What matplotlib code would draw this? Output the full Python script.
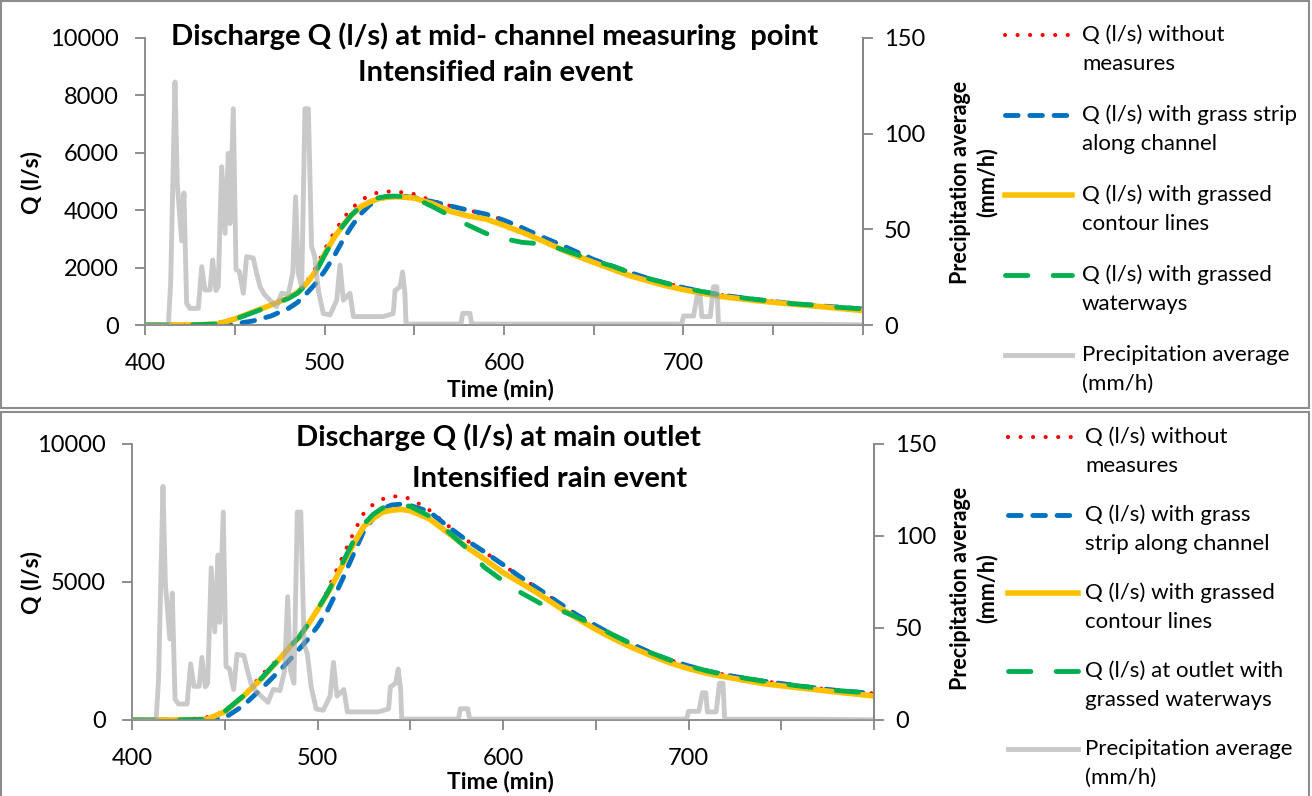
import matplotlib
matplotlib.use('Agg')
import matplotlib.pyplot as plt
from matplotlib.lines import Line2D
from matplotlib.patches import Rectangle

plt.rcParams['font.family'] = ['Lato', 'DejaVu Sans']

# ---- data ----
time_min = [400, 410, 420, 430, 440, 450, 460, 470, 480, 485, 490, 495, 500, 505, 510,
            515, 520, 525, 530, 535, 540, 545, 550, 560, 570, 580, 590, 600, 610, 620,
            630, 640, 650, 660, 670, 680, 690, 700, 710, 720, 740, 760, 780, 800]

# mid-channel measuring point
q_mid_none = [0, 0, 0, 10, 60, 230, 460, 690, 920, 1130, 1500, 1980, 2620, 3180, 3680,
              4050, 4330, 4520, 4620, 4650, 4640, 4610, 4560, 4330, 4150, 4000, 3860, 3650, 3390, 3100,
              2840, 2560, 2280, 2060, 1830, 1630, 1460, 1300, 1170, 1050, 890, 750, 650, 555]
q_mid_strip = [0, 0, 0, 0, 0, 40, 140, 310, 580, 790, 1100, 1440, 1870, 2360, 2930,
               3430, 3860, 4170, 4410, 4480, 4490, 4480, 4440, 4300, 4150, 4000, 3860, 3650, 3390, 3100,
               2840, 2560, 2280, 2060, 1830, 1630, 1460, 1300, 1170, 1050, 890, 750, 650, 555]
q_mid_contour = [0, 0, 0, 10, 30, 210, 450, 690, 950, 1130, 1450, 1860, 2460, 3010, 3450,
                 3830, 4110, 4280, 4400, 4450, 4470, 4450, 4420, 4230, 3960, 3800, 3690, 3470, 3230, 2970,
                 2690, 2420, 2180, 1950, 1720, 1540, 1370, 1230, 1110, 1000, 850, 730, 620, 500]
q_mid_waterways = [0, 0, 0, 10, 40, 200, 430, 670, 930, 1110, 1420, 1830, 2420, 2990, 3440,
                   3830, 4120, 4320, 4430, 4480, 4490, 4470, 4430, 4130, 3800, 3480, 3190, 3010, 2880, 2830,
                   2680, 2470, 2250, 2060, 1830, 1630, 1460, 1300, 1170, 1050, 890, 750, 650, 555]

# main outlet
q_out_none = [0, 0, 0, 20, 90, 300, 850, 1640, 2290, 2620, 3000, 3450, 4000, 4630, 5390,
              6140, 6860, 7500, 7810, 8000, 8110, 8090, 8020, 7620, 7060, 6530, 6090, 5620, 5150, 4710,
              4250, 3800, 3420, 3060, 2730, 2430, 2170, 1960, 1780, 1630, 1410, 1230, 1070, 960]
q_out_strip = [0, 0, 0, 0, 0, 80, 520, 1150, 1820, 2180, 2560, 2940, 3390, 3920, 4600,
               5330, 6100, 6850, 7300, 7660, 7790, 7820, 7770, 7560, 7030, 6530, 6090, 5630, 5150, 4710,
               4250, 3800, 3420, 3060, 2730, 2430, 2170, 1960, 1780, 1630, 1410, 1230, 1070, 960]
q_out_contour = [0, 0, 0, 10, 20, 300, 860, 1510, 2250, 2640, 2990, 3470, 3990, 4530, 5150,
                 5820, 6440, 7020, 7300, 7530, 7600, 7630, 7580, 7300, 6800, 6280, 5830, 5340, 4950, 4540,
                 4090, 3680, 3280, 2930, 2610, 2330, 2070, 1860, 1690, 1560, 1320, 1160, 1010, 870]
q_out_waterways = [0, 0, 0, 10, 30, 310, 870, 1530, 2260, 2650, 3000, 3480, 4000, 4560, 5200,
                   5900, 6560, 7100, 7450, 7680, 7780, 7800, 7740, 7400, 6850, 6250, 5530, 5040, 4600, 4230,
                   4000, 3720, 3420, 3060, 2730, 2430, 2170, 1960, 1780, 1630, 1410, 1230, 1070, 960]

# precipitation (same rain event in both charts)
precip_t = [400, 413, 414.3, 416.7, 418.0, 420.4, 421.7, 423.2, 425, 429.7, 431.6, 433.4, 436.2,
            437.7, 439.5, 440.8, 442.7, 444.6, 446.4, 447.3, 449.2, 450.7, 452.5, 454.8, 456.6,
            460.3, 462.2, 464.1, 466.5, 469.6, 473.3, 476.1, 479.8, 482.3, 483.9, 485.4, 487.3,
            489.1, 491.0, 492.8, 494.5, 496.6, 499.3, 503.1, 506.8, 508.6, 510.5, 514.2, 516.1,
            532.8, 538.3, 539.3, 542.1, 543.5, 544.8, 545.4, 576, 577, 581, 582, 699, 700, 705.6,
            707.5, 709.3, 710.2, 714.9, 716.7, 718.6, 719.5, 770, 800]
precip = [0, 0, 21.8, 127, 74, 44, 69, 11.3, 8.7, 8.7, 30.5, 18.3, 18.3,
          34, 18, 20, 82.7, 47.9, 89.7, 53, 113, 29, 28, 16.6, 35.7,
          35, 27, 20, 16, 13, 9.6, 16.6, 16, 27, 67, 27, 20,
          113, 113, 41, 36, 18, 6, 5.3, 13, 31.3, 13, 16.6, 4.4,
          4.4, 6, 18, 20, 27.7, 16.6, 0.5, 0.5, 6.1, 6.1, 0.5, 0.5, 4.7, 4.7,
          14.8, 14.8, 4.4, 4.4, 20, 20, 0.4, 0.4, 0.1]

labels_mid = ['Q (l/s) without\nmeasures', 'Q (l/s) with grass strip\nalong channel',
              'Q (l/s) with grassed\ncontour lines', 'Q (l/s) with grassed\nwaterways',
              'Precipitation average\n(mm/h)']
labels_out = ['Q (l/s) without\nmeasures', 'Q (l/s) with grass\nstrip along channel',
              'Q (l/s) with grassed\ncontour lines', 'Q (l/s) at outlet with\ngrassed waterways',
              'Precipitation average\n(mm/h)']

W, H = 1312, 796
AX_GREY = '#868686'
styles = [
    dict(color='#FF0000', lw=3, linestyle=(0, (0.01, 3)), dash_capstyle='round'),
    dict(color='#0070C0', lw=3.5, linestyle=(0, (2.6, 2.4)), dash_capstyle='round'),
    dict(color='#FFC000', lw=4, linestyle='-'),
    dict(color='#00B050', lw=3.5, linestyle=(0, (4.6, 5.2)), dash_capstyle='round'),
    dict(color='#A6A6A6', lw=3.5, linestyle='-', alpha=0.6),
]


def fx(x):
    return x / W


def fy(y):
    return 1 - y / H


fig = plt.figure(figsize=(W / 100, H / 100), dpi=100)


def make_panel(rect, series, ymax, ystep, titles, label_y, right_label_y, time_y,
               legend_x, legend_y, legend_gap, labels):
    x0, y0, x1, y1 = rect
    ax = fig.add_axes([fx(x0), fy(y1), fx(x1 - x0), (y1 - y0) / H])
    for s, st in zip(series, styles[:4]):
        ax.plot(time_min, s, **st)
    ax.set_xlim(400, 800)
    ax.set_ylim(0, ymax)
    ax.set_xticks(range(400, 801, 50))
    ax.set_xticklabels(['400', '', '500', '', '600', '', '700', '', ''])
    ax.set_yticks(range(0, ymax + 1, ystep))
    ax.spines['top'].set_visible(False)
    for sp in ['left', 'bottom', 'right']:
        ax.spines[sp].set_color(AX_GREY)
        ax.spines[sp].set_linewidth(1.3)
    ax.tick_params(direction='out', length=7, width=1.3, color=AX_GREY, labelsize=17, pad=12)
    ax.tick_params(axis='x', pad=13)

    ax2 = ax.twinx()
    ax2.plot(precip_t, precip, **styles[4])
    ax2.set_ylim(0, 150)
    ax2.set_yticks([0, 50, 100, 150])
    for sp in ['top', 'left', 'bottom']:
        ax2.spines[sp].set_visible(False)
    ax2.spines['right'].set_color(AX_GREY)
    ax2.spines['right'].set_linewidth(1.3)
    ax2.tick_params(direction='out', length=7, width=1.3, color=AX_GREY, labelsize=17, pad=8)

    for (tx, ty, txt) in titles:
        fig.text(fx(tx), fy(ty), txt, ha='center', va='center', fontsize=21, fontweight='bold')
    fig.text(fx(32), fy(label_y), 'Q (l/s)', rotation=90, ha='center', va='center',
             fontsize=16.5, fontweight='bold')
    fig.text(fx(974), fy(right_label_y), 'Precipitation average\n(mm/h)', rotation=90, ha='center',
             va='center', fontsize=15.5, fontweight='bold', linespacing=1.3)
    fig.text(fx(500), fy(time_y), 'Time (min)', ha='center', va='center', fontsize=16.5,
             fontweight='bold')

    # legend, Excel style: key level with the first text line
    hx0, hx1, tx0 = legend_x
    for i, (lab, st) in enumerate(zip(labels, styles)):
        yy = legend_y + i * legend_gap
        fig.add_artist(Line2D([fx(hx0), fx(hx1)], [fy(yy), fy(yy)], transform=fig.transFigure, **st))
        for j, line in enumerate(lab.split('\n')):
            fig.text(fx(tx0), fy(yy + j * 29), line, ha='left', va='center', fontsize=16)
    return ax


make_panel((145, 38, 863, 325),
           [q_mid_none, q_mid_strip, q_mid_contour, q_mid_waterways], 10000, 2000,
           [(495, 36, 'Discharge Q (l/s) at mid- channel measuring  point'),
            (496, 73, 'Intensified rain event')],
           183, 182, 389, (1005, 1072, 1082), 35, 80, labels_mid)

make_panel((132, 444, 874, 720),
           [q_out_none, q_out_strip, q_out_contour, q_out_waterways], 10000, 5000,
           [(498, 437, 'Discharge Q (l/s) at main outlet'),
            (550, 479, 'Intensified rain event')],
           582, 588, 781, (1008, 1078, 1085), 437, 78, labels_out)

# chart-area borders
fig.add_artist(Rectangle((fx(1), fy(408)), fx(1308), 407 / H, transform=fig.transFigure,
                         fill=False, ec='#8C8C8C', lw=1.5))
fig.add_artist(Rectangle((fx(1), fy(800)), fx(1308), 388 / H, transform=fig.transFigure,
                         fill=False, ec='#8C8C8C', lw=1.5))

fig.savefig('out.png', dpi=100)
